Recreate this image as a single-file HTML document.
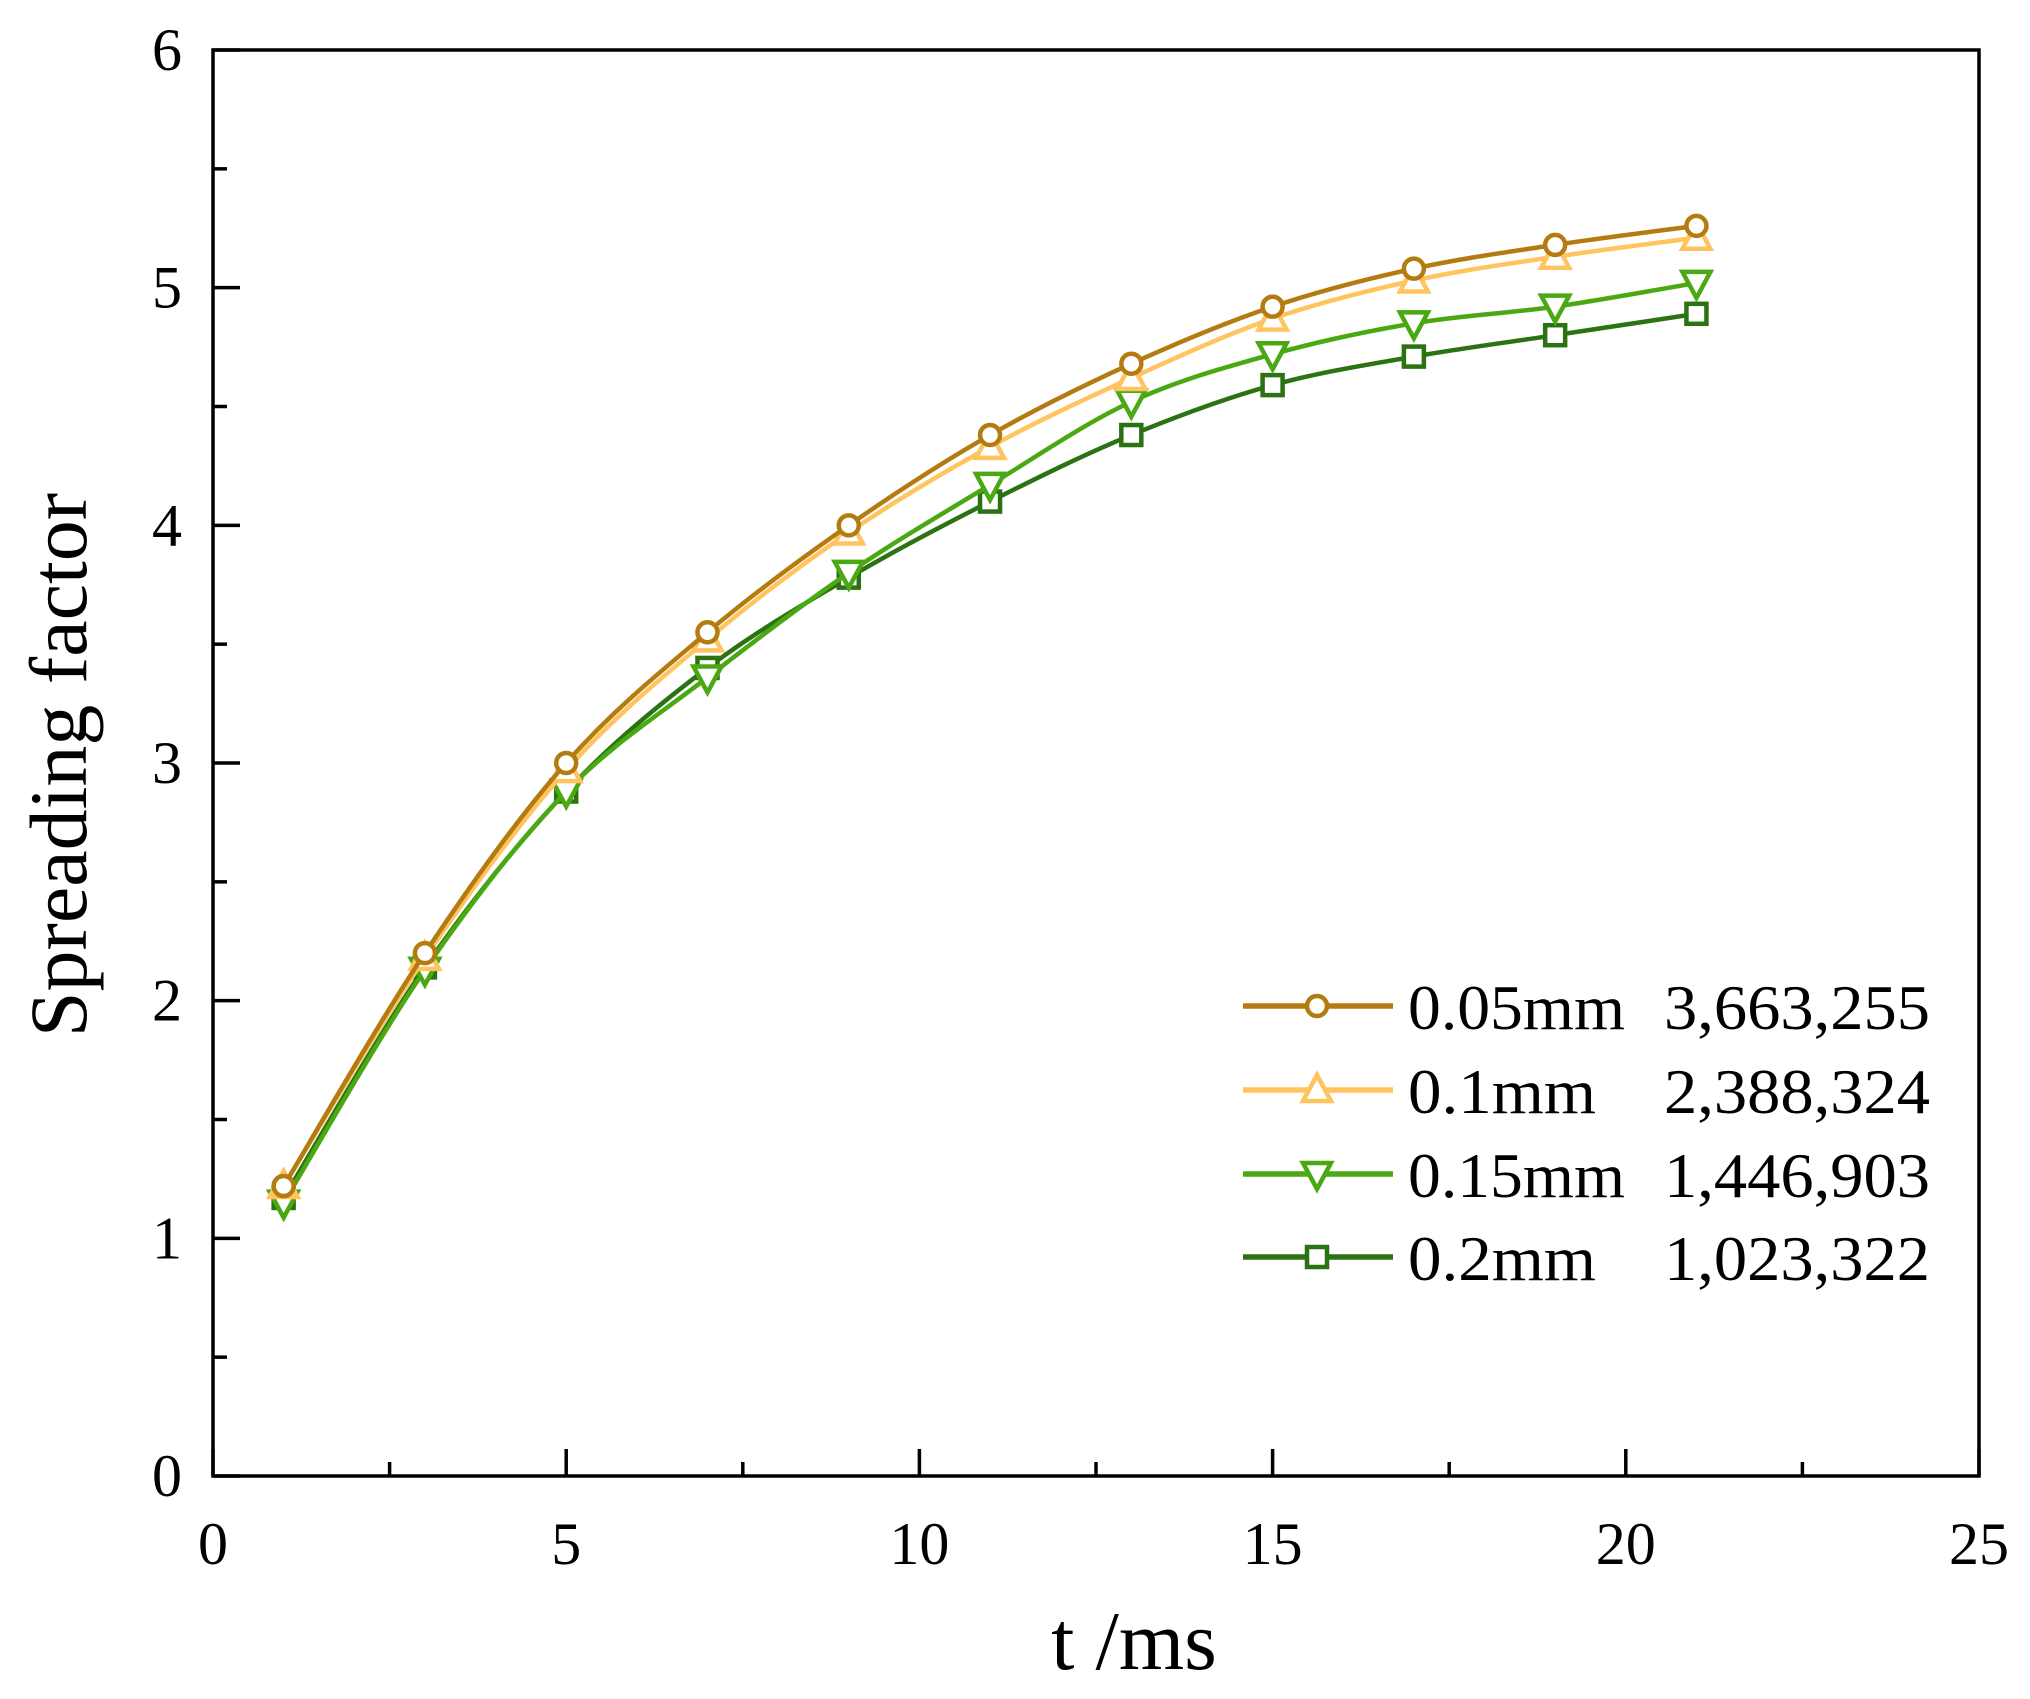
<!DOCTYPE html>
<html><head><meta charset="utf-8"><style>
html,body{margin:0;padding:0;background:#fff;}
svg{display:block;}
text{font-family:"Liberation Serif",serif;fill:#000;}
</style></head><body>
<svg id="s" width="2030" height="1699" viewBox="0 0 2030 1699" xmlns="http://www.w3.org/2000/svg">
<rect x="0" y="0" width="2030" height="1699" fill="#fff"/>
<g id="plot"></g>
<rect x="213" y="50" width="1766" height="1426" fill="none" stroke="#000" stroke-width="3.5"/>
<g id="ticks" stroke="#000" stroke-width="3.5"></g>
<g id="labels" font-size="60"></g>
<text x="0" y="0" font-size="82" text-anchor="middle" transform="translate(86,765) rotate(-90)">Spreading factor</text>
<text x="1134" y="1669" font-size="84" text-anchor="middle">t /ms</text>
<g id="legend"></g>
</svg>
<script>
var NS="http://www.w3.org/2000/svg";
var X0=213,X1=1979,Y0=1476,Y1=50;
function px(x){return X0+(X1-X0)*x/25;}
function py(y){return Y0-(Y0-Y1)*y/6;}
function el(t,a,p){var e=document.createElementNS(NS,t);for(var k in a)e.setAttribute(k,a[k]);p.appendChild(e);return e;}
var tk=document.getElementById('ticks'),lb=document.getElementById('labels');
for(var i=0;i<=10;i++){var x=px(i*2.5),L=(i%2==0)?27:14;
 el('line',{x1:x,y1:Y0,x2:x,y2:Y0-L},tk);
 if(i%2==0){var t=el('text',{x:x,y:1564,'text-anchor':'middle'},lb);t.textContent=i*2.5;}}
for(var i=0;i<=12;i++){var y=py(i*0.5),L=(i%2==0)?27:14;
 el('line',{x1:X0,y1:y,x2:X0+L,y2:y},tk);
 if(i%2==0){var t=el('text',{x:182,y:y+20,'text-anchor':'end'},lb);t.textContent=i/2;}}
var xs=[1,3,5,7,9,11,13,15,17,19,21];
var S=[
 {c:'#b47c10',m:'o',d:[1.22,2.2,3.0,3.55,4.0,4.38,4.68,4.92,5.08,5.18,5.26],l:'0.05mm',v:'3,663,255'},
 {c:'#ffc45e',m:'u',d:[1.22,2.18,2.97,3.52,3.97,4.33,4.62,4.87,5.03,5.13,5.21],l:'0.1mm',v:'2,388,324'},
 {c:'#4aa812',m:'d',d:[1.15,2.13,2.88,3.36,3.8,4.17,4.52,4.72,4.85,4.92,5.02],l:'0.15mm',v:'1,446,903'},
 {c:'#2b7212',m:'s',d:[1.17,2.14,2.88,3.4,3.78,4.1,4.38,4.59,4.71,4.8,4.89],l:'0.2mm',v:'1,023,322'}];
var pl=document.getElementById('plot'),lg=document.getElementById('legend');
function marker(m,x,y,c,g){
 var a={fill:'#fff',stroke:c,'stroke-width':4.5};
 if(m=='o'){a.cx=x;a.cy=y;a.r=10;el('circle',a,g);}
 else if(m=='s'){a.x=x-10;a.y=y-10;a.width=20;a.height=20;el('rect',a,g);}
 else if(m=='u'){a.points=(x)+','+(y-15)+' '+(x-14)+','+(y+11)+' '+(x+14)+','+(y+11);el('polygon',a,g);}
 else {a.points=(x)+','+(y+15)+' '+(x-14)+','+(y-11)+' '+(x+14)+','+(y-11);el('polygon',a,g);}
}
S.slice().reverse().forEach(function(s){
 var P=xs.map(function(x,i){return [px(x),py(s.d[i])];});
 var d='M'+P[0][0]+','+P[0][1];
 for(var i=0;i<P.length-1;i++){var p0=P[i-1]||P[i],p1=P[i],p2=P[i+1],p3=P[i+2]||P[i+1];
  d+=' C'+(p1[0]+(p2[0]-p0[0])/6)+','+(p1[1]+(p2[1]-p0[1])/6)+' '+(p2[0]-(p3[0]-p1[0])/6)+','+(p2[1]-(p3[1]-p1[1])/6)+' '+p2[0]+','+p2[1];}
 el('path',{d:d,fill:'none',stroke:s.c,'stroke-width':4.5},pl);
 P.forEach(function(p){marker(s.m,p[0],p[1],s.c,pl);});
});
var ry=[1006,1090,1174,1257];
S.forEach(function(s,i){var y=ry[i];
 el('line',{x1:1243,y1:y,x2:1393,y2:y,stroke:s.c,'stroke-width':5.5},lg);
 marker(s.m,1317,y,s.c,lg);
 var t=el('text',{x:1408,y:y+23,'font-size':64,textLength:(s.l.length>5?217:188),lengthAdjust:'spacingAndGlyphs'},lg);t.textContent=s.l;
 var v=el('text',{x:1664,y:y+23,'font-size':64,textLength:266,lengthAdjust:'spacingAndGlyphs'},lg);v.textContent=s.v;
});
</script>
</body></html>
